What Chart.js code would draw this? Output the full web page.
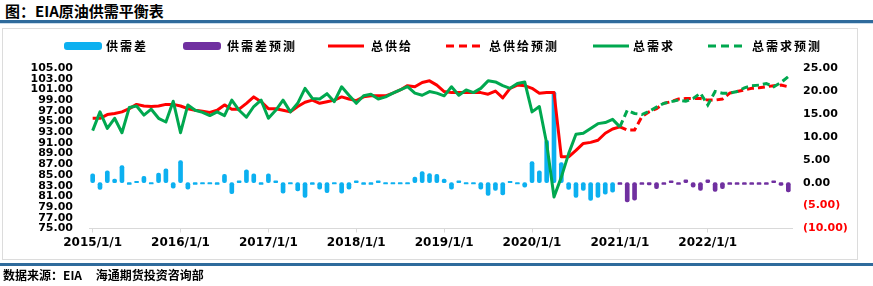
<!DOCTYPE html>
<html><head><meta charset="utf-8">
<script src="https://cdn.jsdelivr.net/npm/chart.js@4/dist/chart.umd.min.js"></script>
<style>
html,body{margin:0;padding:0;background:#fff;}
#wrap{position:relative;width:873px;height:286px;overflow:hidden;background:#fff;}
#title{position:absolute;left:5px;top:1px;font:bold 15px "Noto Sans CJK SC";color:#000;line-height:19px;white-space:nowrap;}
#rule1{position:absolute;left:0;top:20px;width:873px;height:3px;background:#2f6b9c;}
#rule1b{position:absolute;left:0;top:23px;width:873px;height:1px;background:#c9dcec;}
#box{position:absolute;left:2px;top:28px;width:856px;height:232px;border:1px solid #dcdcdc;box-sizing:border-box;}
#rule2{position:absolute;left:0;top:263px;width:873px;height:3px;background:#2f6b9c;}
#src{position:absolute;left:3px;top:267px;font:bold 12px "Noto Sans CJK SC";color:#000;line-height:15px;white-space:nowrap;}
canvas{position:absolute;left:0;top:0;}
</style></head>
<body>
<div id="wrap">
<div id="title">图：EIA原油供需平衡表</div>
<div id="rule1"></div><div id="rule1b"></div>
<div id="box"></div>
<canvas id="c" width="873" height="286"></canvas>
<div id="rule2"></div>
<div id="src">数据来源：EIA&nbsp;&nbsp;&nbsp;&nbsp;&nbsp;海通期货投资咨询部</div>
</div>
<script>
// ---- data ----
const years = ['2015','2016','2017','2018','2019','2020','2021','2022'];
const categories = [];
years.forEach(y => { for (let m = 1; m <= 12; m++) categories.push(y + '/' + m + '/1'); });

// supply - demand gap (right axis), actual 2015/1 - 2020/12
const gapActual = [
  1.9,-1.5,2.6,0.8,3.7,-0.4,0.3,1.4,-0.3,2.1,3.0,-1.2,
  4.8,-1.4,-0.4,-0.3,-0.3,-0.4,1.8,-2.4,0.4,2.8,1.9,-0.4,
  1.9,0.4,-2.3,-0.3,-1.8,-3.2,-0.4,-1.4,-2.2,-0.3,-2.3,-1.4,
  0.4,-0.4,-0.4,0.4,-0.3,-0.3,-0.3,-0.3,1.2,2.4,2.0,1.8,
  0.8,-1.4,0.4,-0.3,-0.3,-1.4,-2.8,-1.7,-2.7,0.3,-0.3,-1.0,
  4.6,2.6,9.2,19.8,4.4,-1.5,-3.2,-1.7,-3.9,-3.2,-2.5,-2.1
];
// gap forecast 2021/1 - 2022/12
const gapForecast = [
  -0.4,-4.2,-3.8,-0.4,-0.5,-1.3,-0.4,0.4,-0.4,0.6,-1.0,-1.7,
  0.6,-1.9,-1.3,-0.4,-0.4,-0.4,-0.4,-0.4,-0.4,0.4,-0.6,-2.0
];
// total supply (left axis), actual 2015/1 - 2021/1
const supplyActual = [
  95.6,95.6,96.3,96.5,96.8,97.4,98.2,97.9,97.8,97.9,98.2,98.2,
  97.9,97.4,97.1,96.9,96.7,97.1,98.1,97.3,97.3,98.4,99.6,98.7,
  97.4,97.4,97.1,96.8,97.8,98.6,99.0,98.4,98.7,99.0,99.6,99.2,
  98.9,99.6,99.8,99.8,99.8,100.3,100.9,101.7,101.5,102.3,102.6,101.8,
  100.6,100.4,100.4,100.4,100.4,100.4,100.1,100.7,99.4,101.2,101.8,101.7,
  101.2,100.3,100.4,100.4,88.4,88.4,89.6,90.9,91.1,91.5,92.8,93.6,
  94.0
];
// total supply forecast 2021/1 - 2022/12
const supplyForecast = [
  94.0,93.4,93.4,95.9,96.8,97.4,98.4,98.7,99.2,99.3,99.3,99.3,
  99.0,99.0,99.2,100.3,100.6,100.9,101.2,101.3,101.5,101.7,101.8,101.5
];
// total demand, actual 2015/1 - 2021/1
const demandActual = [
  93.3,96.8,93.7,95.6,92.9,97.6,97.9,96.2,97.3,95.6,94.9,98.8,
  92.9,98.1,97.1,96.7,96.1,96.8,96.1,99.0,97.1,95.8,97.8,99.0,
  95.6,97.1,99.0,96.8,98.4,101.2,99.3,99.2,100.2,98.7,101.5,99.9,
  98.4,99.8,100.1,99.2,99.6,100.3,100.9,101.5,100.3,99.9,100.6,100.3,
  99.8,101.5,99.9,100.9,100.4,101.2,102.6,102.4,101.7,101.2,102.1,102.4,
  96.8,97.8,90.9,80.9,84.6,89.0,92.6,92.8,93.7,94.6,94.8,95.4,
  94.0
];
// total demand forecast 2021/1 - 2022/12
const demandForecast = [
  94.0,97.1,96.5,96.3,96.9,97.7,98.4,98.7,99.0,98.8,99.3,100.3,
  98.1,100.6,100.3,100.3,100.6,101.3,101.7,101.8,102.1,101.5,102.3,103.4
];
const leftTicks = {min: 75, max: 105, step: 2};
const rightTicks = {min: -10, max: 25, step: 5};

// ---- build series on full category range ----
const N = categories.length;
const pad = (arr, start) => { const out = new Array(N).fill(null); arr.forEach((v, i) => { out[start + i] = v; }); return out; };
const fcStart = years.indexOf('2021') * 12;

const BLUE = '#0cb0f0', PURPLE = '#7030a0', RED = '#ff0000', GREEN = '#00a84f';
const DASH = [7, 4];

const legendPlugin = {
  id: 'xlLegend',
  afterDraw(chart) {
    const ctx = chart.ctx;
    const ds = chart.data.datasets;
    const items = [
      {k: 'box', x: 64, tx: 106, d: ds[0]},
      {k: 'box', x: 183, tx: 227, d: ds[1]},
      {k: 'line', x: 328, tx: 371, d: ds[2]},
      {k: 'line', x: 446, tx: 489, d: ds[3]},
      {k: 'line', x: 593, tx: 633, d: ds[4]},
      {k: 'line', x: 708, tx: 752, d: ds[5]}
    ];
    const y = 46;
    ctx.save();
    items.forEach(it => {
      if (it.k === 'box') {
        ctx.fillStyle = it.d.backgroundColor;
        ctx.beginPath();
        ctx.roundRect(it.x, y - 4, 38, 8, 3);
        ctx.fill();
      } else {
        ctx.strokeStyle = it.d.borderColor;
        ctx.lineWidth = 3;
        ctx.setLineDash(it.d.borderDash && it.d.borderDash.length ? [8, 5] : []);
        ctx.beginPath();
        ctx.moveTo(it.x, y);
        ctx.lineTo(it.x + 36, y);
        ctx.stroke();
        ctx.setLineDash([]);
      }
      ctx.fillStyle = '#000';
      ctx.font = 'bold 12px "Noto Sans CJK SC"';
      try { ctx.letterSpacing = '2px'; } catch (e) {}
      ctx.textBaseline = 'middle';
      ctx.textAlign = 'left';
      ctx.fillText(it.d.label, it.tx, y);
    });
    ctx.restore();
  }
};

new Chart(document.getElementById('c'), {
  type: 'bar',
  data: {
    labels: categories,
    datasets: [
      {type: 'bar', label: '供需差', data: pad(gapActual, 0), yAxisID: 'yR', backgroundColor: BLUE,
       barThickness: 4, grouped: false, borderRadius: 2, borderSkipped: false, order: 3},
      {type: 'bar', label: '供需差预测', data: pad(gapForecast, fcStart), yAxisID: 'yR', backgroundColor: PURPLE,
       barThickness: 4, grouped: false, borderRadius: 2, borderSkipped: false, order: 3},
      {type: 'line', label: '总供给', data: pad(supplyActual, 0), yAxisID: 'y', borderColor: RED, backgroundColor: RED,
       borderWidth: 3, pointRadius: 0, tension: 0, borderJoinStyle: 'round', order: 2},
      {type: 'line', label: '总供给预测', data: pad(supplyForecast, fcStart), yAxisID: 'y', borderColor: RED, backgroundColor: RED,
       borderWidth: 3, borderDash: DASH, pointRadius: 0, tension: 0, order: 2},
      {type: 'line', label: '总需求', data: pad(demandActual, 0), yAxisID: 'y', borderColor: GREEN, backgroundColor: GREEN,
       borderWidth: 3, pointRadius: 0, tension: 0, borderJoinStyle: 'round', order: 1},
      {type: 'line', label: '总需求预测', data: pad(demandForecast, fcStart), yAxisID: 'y', borderColor: GREEN, backgroundColor: GREEN,
       borderWidth: 3, borderDash: DASH, pointRadius: 0, tension: 0, order: 1}
    ]
  },
  options: {
    responsive: false,
    animation: false,
    devicePixelRatio: 1,
    layout: {padding: {top: 68, left: 0, right: 0, bottom: 0}},
    plugins: {legend: {display: false}, tooltip: {enabled: false}, title: {display: false}},
    scales: {
      x: {
        type: 'category', offset: true,
        grid: {display: true, drawOnChartArea: false, drawTicks: true, tickLength: 4, color: '#d9d9d9', offset: false},
        border: {display: true, color: '#d9d9d9', width: 1},
        ticks: {autoSkip: false, maxRotation: 0, minRotation: 0, padding: 3, color: '#000',
          font: {family: 'DejaVu Sans', weight: 'bold', size: 12},
          callback: (v, i) => (i % 12 === 0 ? categories[i] : null)},
        afterFit: s => { s.height = 57.5; }
      },
      y: {
        position: 'left', min: leftTicks.min, max: leftTicks.max,
        grid: {display: false, drawTicks: false}, border: {display: false},
        ticks: {stepSize: leftTicks.step, autoSkip: false, padding: 16, color: '#000',
          font: {family: 'DejaVu Sans', weight: 'bold', size: 11, lineHeight: 1},
          callback: v => Number(v).toFixed(2)},
        afterFit: s => { s.width = 89; }
      },
      yR: {
        position: 'right', min: rightTicks.min, max: rightTicks.max,
        grid: {display: false, drawTicks: false}, border: {display: false},
        ticks: {stepSize: rightTicks.step, autoSkip: false, padding: 11,
          color: c => (c.tick && c.tick.value < 0 ? '#ff0000' : '#000'),
          font: {family: 'DejaVu Sans', weight: 'bold', size: 11, lineHeight: 1},
          callback: v => (v < 0 ? '(' + Math.abs(v).toFixed(2) + ')' : Number(v).toFixed(2))},
        afterFit: s => { s.width = 81; }
      }
    }
  },
  plugins: [legendPlugin]
});
</script>
</body></html>
